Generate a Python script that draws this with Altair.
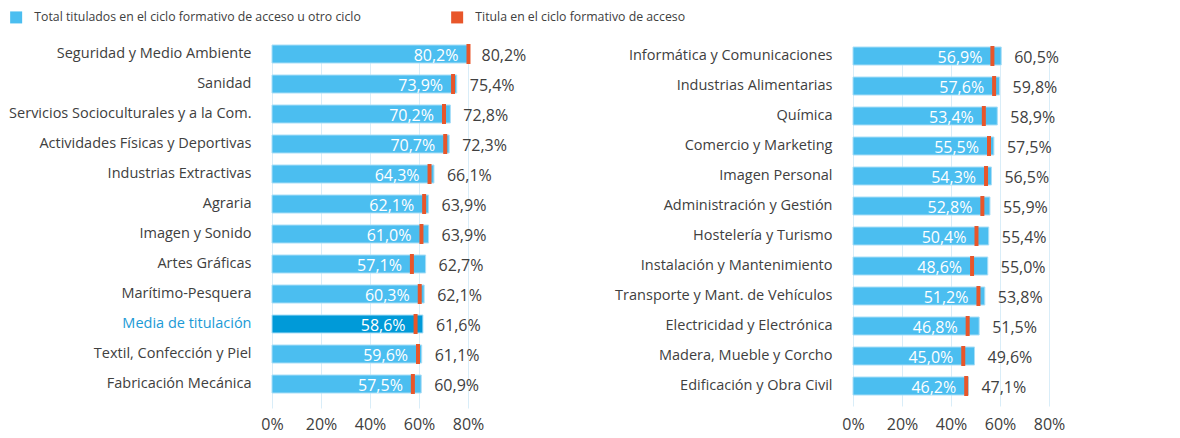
import altair as alt
import pandas as pd

LEFT_CATS = [
    "Seguridad y Medio Ambiente", "Sanidad", "Servicios Socioculturales y a la Com.",
    "Actividades Físicas y Deportivas", "Industrias Extractivas", "Agraria",
    "Imagen y Sonido", "Artes Gráficas", "Marítimo-Pesquera", "Media de titulación",
    "Textil, Confección y Piel", "Fabricación Mecánica",
]
LEFT_TOTAL = [80.2, 75.4, 72.8, 72.3, 66.1, 63.9, 63.9, 62.7, 62.1, 61.6, 61.1, 60.9]
LEFT_ACCESO = [80.2, 73.9, 70.2, 70.7, 64.3, 62.1, 61.0, 57.1, 60.3, 58.6, 59.6, 57.5]

RIGHT_CATS = [
    "Informática y Comunicaciones", "Industrias Alimentarias", "Química",
    "Comercio y Marketing", "Imagen Personal", "Administración y Gestión",
    "Hostelería y Turismo", "Instalación y Mantenimiento",
    "Transporte y Mant. de Vehículos", "Electricidad y Electrónica",
    "Madera, Mueble y Corcho", "Edificación y Obra Civil",
]
RIGHT_TOTAL = [60.5, 59.8, 58.9, 57.5, 56.5, 55.9, 55.4, 55.0, 53.8, 51.5, 49.6, 47.1]
RIGHT_ACCESO = [56.9, 57.6, 53.4, 55.5, 54.3, 52.8, 50.4, 48.6, 51.2, 46.8, 45.0, 46.2]

X_TICKS = [0, 0.2, 0.4, 0.6, 0.8]

SERIES_TOTAL = "Total titulados en el ciclo formativo de acceso u otro ciclo"
SERIES_ACCESO = "Titula en el ciclo formativo de acceso"
MEDIA = "Media de titulación"

FONT = "Open Sans"
BLUE = "#4BBEF0"
DARK = "#009AD8"
RED = "#E8562A"
TEXT = "#404040"
GRID = "#D9EDF8"

color_scale = alt.Scale(domain=[SERIES_TOTAL, SERIES_ACCESO, "Media"], range=[BLUE, RED, DARK])


def fmt(v):
    return f"{v:.1f}".replace(".", ",") + "%"


def panel(cats, total, acceso, yrange, legend):
    df = pd.DataFrame({
        "cat": cats,
        "total": [v / 100 for v in total],
        "acceso": [v / 100 for v in acceso],
        "total_lbl": [fmt(v) for v in total],
        "acceso_lbl": [fmt(v) for v in acceso],
        "serie": ["Media" if c == MEDIA else SERIES_TOTAL for c in cats],
        "serie_acc": [SERIES_ACCESO] * len(cats),
    })
    y = alt.Y(
        "cat:N", sort=cats, title=None,
        scale=alt.Scale(range=yrange, paddingInner=0.4, paddingOuter=0),
        axis=alt.Axis(
            ticks=False, domain=False, labelPadding=21, labelFont=FONT, labelFontSize=14.5,
            labelColor={"expr": f"datum.value == '{MEDIA}' ? '#1B9AD6' : '{TEXT}'"},
            labelLimit=400,
        ),
    )
    x = alt.X(
        "total:Q", title=None, scale=alt.Scale(domain=[0, 0.8]),
        axis=alt.Axis(
            values=X_TICKS, format=".0%", grid=True, gridColor=GRID, domain=False, ticks=False,
            labelFont=FONT, labelFontSize=16, labelColor=TEXT, labelPadding=8, labelFlush=False,
        ),
    )
    ysimple = alt.Y("cat:N", sort=cats)
    base = alt.Chart(df)
    bars = base.mark_bar(stroke="#A9DEF7", strokeWidth=1).encode(
        x=x, y=y,
        color=alt.Color("serie:N", scale=color_scale, legend=legend),
    )
    ticks = base.mark_tick(thickness=4, size=20, opacity=1).encode(
        x="acceso:Q", y=ysimple,
        color=alt.Color("serie_acc:N", scale=color_scale, legend=legend),
    )
    inside = base.mark_text(align="right", dx=-10, dy=2, color="white", font=FONT, fontSize=16).encode(
        x="acceso:Q", y=ysimple, text="acceso_lbl:N"
    )
    outside = base.mark_text(align="left", dx=13, dy=2, color=TEXT, font=FONT, fontSize=16).encode(
        x="total:Q", y=ysimple, text="total_lbl:N"
    )
    return alt.layer(bars, ticks, inside, outside).properties(width=196, height=363)


legend = alt.Legend(
    orient="none", legendX=-262, legendY=-34, direction="horizontal", title=None,
    symbolType="square", symbolSize=144, symbolStrokeWidth=0, symbolOpacity=1,
    labelFont=FONT, labelFontSize=12.3, labelColor=TEXT, columnPadding=90,
    labelOffset=12, labelLimit=600, values=[SERIES_TOTAL, SERIES_ACCESO],
)

left = panel(LEFT_CATS, LEFT_TOTAL, LEFT_ACCESO, [0, 348], legend)
right = panel(RIGHT_CATS, RIGHT_TOTAL, RIGHT_ACCESO, [2, 350], legend)

chart = alt.hconcat(left, right, spacing=385, bounds="flush").properties(
    padding={"left": 0, "top": 3, "right": 5, "bottom": 5}
).configure_view(stroke=None)

chart.save("out.html", embed_options={"renderer": "svg", "actions": False})
